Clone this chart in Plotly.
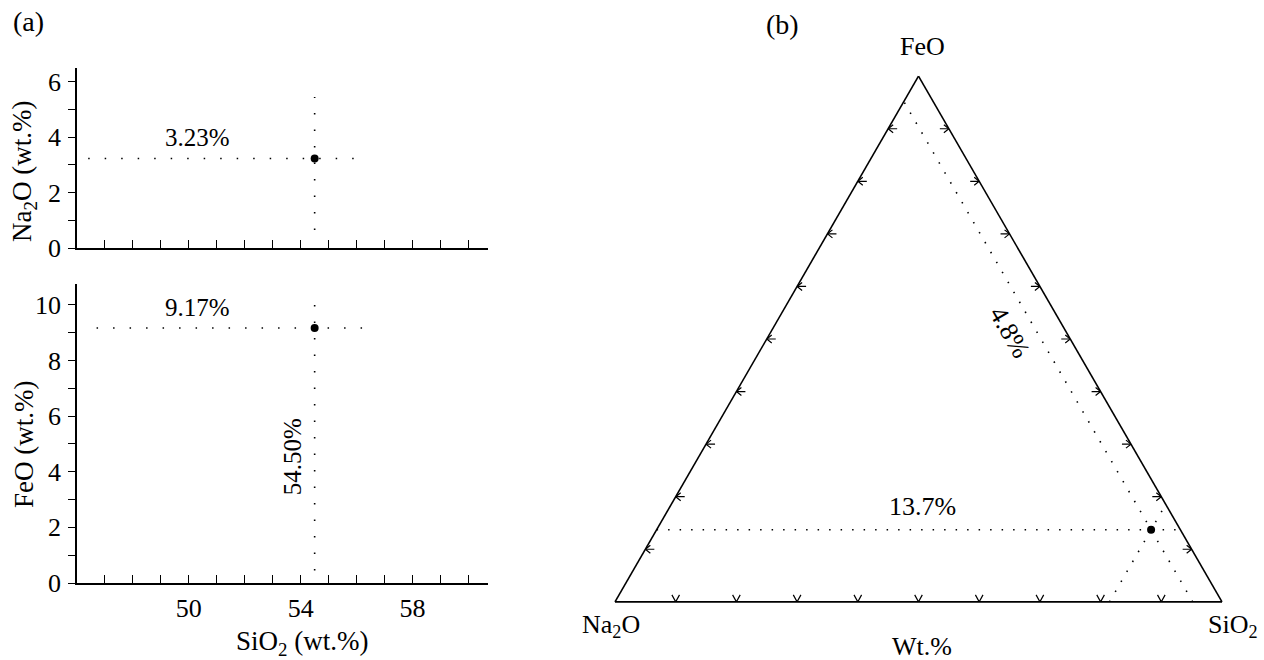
import math
import plotly.graph_objects as go

W, H = 1264, 660
H_REQ = 674  # requested layout height (renderer loses ~14px of height)

# ---------------- data ----------------
sample_sio2 = [54.50]
sample_na2o = [3.23]
sample_feo = [9.17]

x_major_ticks = [50, 54, 58]
y_ticks_na2o = [0, 2, 4, 6]
y_ticks_feo = [0, 2, 4, 6, 8, 10]

guide_x_top = [46.4, 56.3]
guide_y_top = [0.65, 5.45]
guide_x_bot = [46.7, 56.2]
guide_y_bot = [0.45, 10.3]

tern_ticks = [10, 20, 30, 40, 50, 60, 70, 80, 90]

total = sample_na2o[0] + sample_feo[0] + sample_sio2[0]
t_feo = sample_feo[0] / total * 100
t_na2o = sample_na2o[0] / total * 100
t_sio2 = sample_sio2[0] / total * 100

FONT = "Liberation Serif, Times New Roman, serif"
BLACK = "black"
FS = 25      # annotation text
FT = 26      # tick labels
FA = 27      # axis titles


def fy(y):
    return 1 - y / H


fig = go.Figure()

xdom = [77 / W, 488 / W]
common_x = dict(range=[46, 60.7], tickvals=x_major_ticks, ticks="inside", ticklen=8, tickwidth=1.3,
                tickcolor=BLACK,
                minor=dict(dtick=1, tick0=46, ticks="inside", ticklen=8, tickwidth=1.3, tickcolor=BLACK),
                showline=True, linecolor=BLACK, linewidth=1.5, showgrid=False, zeroline=False,
                tickfont=dict(family=FONT, size=FT, color=BLACK), ticklabelstandoff=1)
common_y = dict(ticks="outside", ticklen=7, tickwidth=1.3, tickcolor=BLACK,
                minor=dict(dtick=1, tick0=0, ticks="outside", ticklen=7, tickwidth=1.3, tickcolor=BLACK),
                showline=True, linecolor=BLACK, linewidth=1.5, showgrid=False, zeroline=False,
                tickfont=dict(family=FONT, size=FT, color=BLACK), ticklabelstandoff=2)
fig.update_layout(
    xaxis=dict(domain=xdom, anchor="y", showticklabels=False, **common_x),
    yaxis=dict(domain=[fy(248), fy(68)], anchor="x", range=[0, 6.5], tickvals=y_ticks_na2o, **common_y),
    xaxis2=dict(domain=xdom, anchor="y2", **common_x),
    yaxis2=dict(domain=[fy(583), fy(284)], anchor="x2", range=[0, 10.75], tickvals=y_ticks_feo, **common_y),
)

dot_a = dict(color=BLACK, width=1.6, dash="1.5px,15px")

fig.add_trace(go.Scatter(x=guide_x_top, y=[sample_na2o[0]] * 2, mode="lines", line=dot_a,
                         xaxis="x", yaxis="y", hoverinfo="skip"))
fig.add_trace(go.Scatter(x=[sample_sio2[0]] * 2, y=guide_y_top, mode="lines", line=dot_a,
                         xaxis="x", yaxis="y", hoverinfo="skip"))
fig.add_trace(go.Scatter(x=sample_sio2, y=sample_na2o, mode="markers",
                         marker=dict(color=BLACK, size=8), xaxis="x", yaxis="y"))
fig.add_trace(go.Scatter(x=guide_x_bot, y=[sample_feo[0]] * 2, mode="lines", line=dot_a,
                         xaxis="x2", yaxis="y2", hoverinfo="skip"))
fig.add_trace(go.Scatter(x=[sample_sio2[0]] * 2, y=guide_y_bot, mode="lines", line=dot_a,
                         xaxis="x2", yaxis="y2", hoverinfo="skip"))
fig.add_trace(go.Scatter(x=sample_sio2, y=sample_feo, mode="markers",
                         marker=dict(color=BLACK, size=8), xaxis="x2", yaxis="y2"))

# ---------------- panel (b): ternary ----------------
tx0, tx1 = 615, 1222
ty_base, ty_top = 602, 76
L = tx1 - tx0
S3 = math.sqrt(3) / 2


def to_tern(x, y):
    a = y / S3
    c = x - a / 2
    b = 1 - a - c
    return a * 100, b * 100, c * 100


ta, tb, tc = [], [], []


def add_path(pts):
    for (x, y) in pts:
        a, b, c = to_tern(x, y)
        ta.append(a); tb.append(b); tc.append(c)
    ta.append(None); tb.append(None); tc.append(None)


for t in tern_ticks:
    f = t / 100
    add_path([(f - 3.8 / L, 7 / L), (f, 0), (f + 3.8 / L, 7 / L)])
    lx, ly = f / 2, f * S3
    add_path([(lx + 5 / L, ly + 4 / L), (lx, ly), (lx + 5 / L, ly - 4 / L)])
    add_path([(lx, ly), (lx + 9 / L, ly)])
    rx, ry = 1 - f / 2, f * S3
    add_path([(rx - 5 / L, ry + 4 / L), (rx, ry), (rx - 5 / L, ry - 4 / L)])
    add_path([(rx, ry), (rx - 9 / L, ry)])

fig.add_trace(go.Scatterternary(a=ta, b=tb, c=tc, mode="lines",
                                line=dict(color=BLACK, width=1.2), hoverinfo="skip"))

dot_b = dict(color=BLACK, width=1.6, dash="1.5px,10px")
fig.add_trace(go.Scatterternary(a=[t_feo, t_feo], b=[100 - t_feo, 0], c=[0, 100 - t_feo],
                                mode="lines", line=dot_b, hoverinfo="skip"))
fig.add_trace(go.Scatterternary(a=[0, 100 - t_na2o], b=[t_na2o, t_na2o], c=[100 - t_na2o, 0],
                                mode="lines", line=dot_b, hoverinfo="skip"))
fig.add_trace(go.Scatterternary(a=[0, 100 - t_sio2], b=[100 - t_sio2, 0], c=[t_sio2, t_sio2],
                                mode="lines", line=dot_b, hoverinfo="skip"))
fig.add_trace(go.Scatterternary(a=[t_feo], b=[t_na2o], c=[t_sio2], mode="markers",
                                marker=dict(color=BLACK, size=8)))

tern_axis = dict(showline=True, linecolor=BLACK, linewidth=1.6, showgrid=False,
                 ticks="", showticklabels=False, min=0, title=dict(text=""))
fig.update_layout(
    ternary=dict(domain=dict(x=[tx0 / W, tx1 / W], y=[fy(ty_base), fy(ty_top)]),
                 sum=100, bgcolor="white",
                 aaxis=tern_axis, baxis=tern_axis, caxis=tern_axis)
)


def px_ann(text, x, y, size, angle=0):
    return dict(text=text, x=x / W, y=fy(y), xref="paper", yref="paper",
                showarrow=False, textangle=angle, xanchor="center", yanchor="middle",
                font=dict(family=FONT, size=size, color=BLACK))


annotations = [
    px_ann("(a)", 28, 22, 28),
    px_ann("(b)", 782, 24, 28),
    px_ann("Na<sub>2</sub>O (wt.%)", 24, 172, FA, -90),
    px_ann("FeO (wt.%)", 24, 445, FA, -90),
    px_ann("SiO<sub>2</sub> (wt.%)", 302, 643, FA),
    px_ann("FeO", 922, 46, 26),
    px_ann("Na<sub>2</sub>O", 611, 626, 26),
    px_ann("SiO<sub>2</sub>", 1233, 626, 26),
    px_ann("Wt.%", 922, 646, 26),
    px_ann("13.7%", 922, 506, 26),
    px_ann("4.8%", 1010, 332, 26, 60),
    dict(text="3.23%", x=50.3, y=4.0, xref="x", yref="y", showarrow=False,
         font=dict(family=FONT, size=FS, color=BLACK)),
    dict(text="9.17%", x=50.3, y=9.9, xref="x2", yref="y2", showarrow=False,
         font=dict(family=FONT, size=FS, color=BLACK)),
    dict(text="54.50%", x=53.7, y=4.53, xref="x2", yref="y2", showarrow=False, textangle=-90,
         font=dict(family=FONT, size=FS, color=BLACK)),
]

fig.update_layout(
    width=W, height=H_REQ, margin=dict(l=0, r=0, t=0, b=H_REQ - H),
    paper_bgcolor="white", plot_bgcolor="white", showlegend=False,
    annotations=annotations,
    font=dict(family=FONT, color=BLACK),
)

fig.write_html("out.html")
